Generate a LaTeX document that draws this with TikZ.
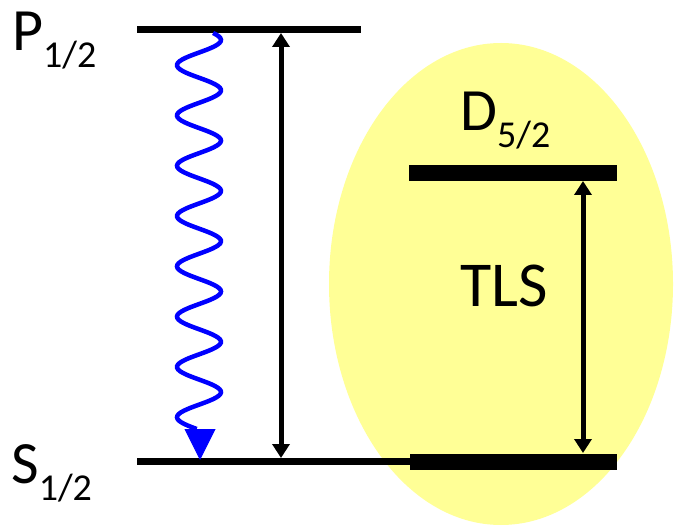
\documentclass[tikz,border=0pt]{standalone}
\usepackage{fontspec}
\setmainfont{Carlito}
\usetikzlibrary{arrows.meta}
\definecolor{tlsyellow}{RGB}{255,255,150}
\definecolor{photonblue}{RGB}{0,0,255}
\newcommand{\levellabel}[2]{{\fontsize{60}{60}\selectfont #1}\raisebox{-17pt}{\fontsize{38}{38}\selectfont #2}}
\begin{document}
\begin{tikzpicture}[x=1pt,y=-1pt,
  thinlevel/.style={line width=7pt},
  thicklevel/.style={line width=16pt},
  transition/.style={line width=5pt, {Triangle[width=17pt,length=14pt]}-{Triangle[width=17pt,length=14pt]}},
  photon/.style={line width=4.5pt, photonblue},
  lbl/.style={anchor=base west, inner sep=0pt}]
\useasboundingbox (0,0) rectangle (674,526);
\fill[tlsyellow] (501,284) ellipse [x radius=172pt, y radius=241pt];
\coordinate (P-l) at (137,29.5);
\coordinate (P-r) at (361,29.5);
\coordinate (S-l) at (137,461.5);
\coordinate (S-m) at (410,461.5);
\coordinate (S-r) at (617,461.5);
\coordinate (D-l) at (409,173);
\coordinate (D-r) at (617,173);
\draw[thinlevel] (P-l) -- (P-r);
\draw[thinlevel] (S-l) -- (S-m);
\draw[thicklevel] (S-m) -- (S-r);
\draw[thicklevel] (D-l) -- (D-r);
\coordinate (PS-top) at (281,33);
\coordinate (PS-bot) at (281,458);
\coordinate (DS-top) at (583,181);
\coordinate (DS-bot) at (583,453);
\draw[transition] (PS-top) -- (PS-bot);
\draw[transition] (DS-top) -- (DS-bot);
\draw[photon] plot[domain=33:429, samples=240, smooth, variable=\t] ({199+22*cos(7.157*(\t-40))}, \t);
\coordinate (ph-a) at (200,429);
\coordinate (ph-b) at (200,460);
\draw[photonblue, line width=1pt, -{Triangle[width=31pt,length=31pt]}] (ph-a) -- (ph-b);
\node[lbl] (Plabel) at (12,51) {\levellabel{P}{1/2}};
\node[lbl] (Slabel) at (11,483) {\levellabel{S}{1/2}};
\node[lbl] (Dlabel) at (460,131) {\levellabel{D}{5/2}};
\node[lbl] (TLSlabel) at (460,307) {\fontsize{64}{64}\selectfont TLS};
\end{tikzpicture}
\end{document}
